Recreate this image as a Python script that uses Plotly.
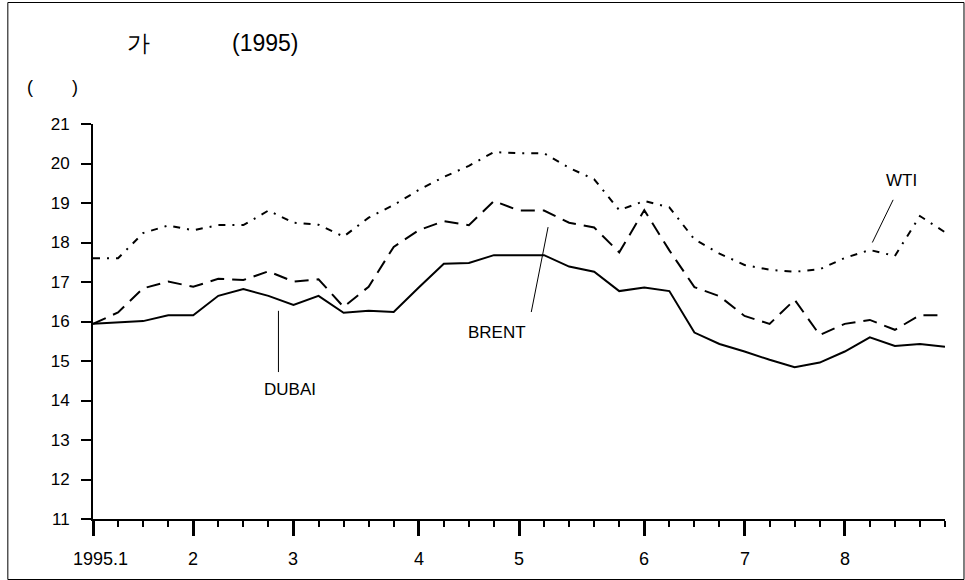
import plotly.graph_objects as go

weeks = list(range(35))
dubai = [15.94, 15.97, 16.01, 16.16, 16.16, 16.65, 16.82, 16.65, 16.42, 16.65, 16.22, 16.27,
         16.24, 16.86, 17.46, 17.48, 17.68, 17.68, 17.68, 17.39, 17.26, 16.77, 16.86, 16.77,
         15.72, 15.43, 15.24, 15.03, 14.84, 14.96, 15.24, 15.60, 15.38, 15.43, 15.36]
brent = [15.94, 16.23, 16.84, 17.01, 16.88, 17.08, 17.05, 17.27, 17.01, 17.07, 16.37, 16.88,
         17.89, 18.31, 18.54, 18.44, 19.05, 18.81, 18.81, 18.50, 18.38, 17.75, 18.82, 17.80,
         16.87, 16.64, 16.14, 15.94, 16.55, 15.66, 15.94, 16.04, 15.79, 16.16, 16.16]
wti = [17.60, 17.60, 18.24, 18.43, 18.31, 18.44, 18.44, 18.81, 18.50, 18.45, 18.15, 18.63,
       18.95, 19.33, 19.66, 19.94, 20.29, 20.26, 20.26, 19.89, 19.60, 18.82, 19.05, 18.89,
       18.08, 17.72, 17.43, 17.31, 17.26, 17.32, 17.61, 17.81, 17.66, 18.67, 18.26]
month_pos = [0, 4, 8, 13, 17, 22, 26, 30]
month_labels = ["1995.1", "2", "3", "4", "5", "6", "7", "8"]
y_ticks = list(range(11, 22))

FONT = "Liberation Sans, Arial, sans-serif"
fig = go.Figure()
fig.add_trace(go.Scatter(x=weeks, y=wti, mode="lines", name="WTI",
                         line=dict(color="black", width=2, dash="7px,7px,2px,7px")))
fig.add_trace(go.Scatter(x=weeks, y=brent, mode="lines", name="BRENT",
                         line=dict(color="black", width=2, dash="14px,8px")))
fig.add_trace(go.Scatter(x=weeks, y=dubai, mode="lines", name="DUBAI",
                         line=dict(color="black", width=2)))

fig.update_layout(
    width=965, height=580,
    margin=dict(l=92.7, r=20, t=124, b=61),
    paper_bgcolor="white", plot_bgcolor="white",
    showlegend=False,
    font=dict(family=FONT, size=17, color="black"),
    xaxis=dict(range=[0, 34], showgrid=False, zeroline=False,
               showline=True, linecolor="black", linewidth=2,
               tickmode="array", tickvals=month_pos, ticktext=[""] * len(month_pos),
               ticks="outside", ticklen=15, tickwidth=3, tickcolor="black",
               minor=dict(tickmode="linear", tick0=0, dtick=1, ticks="outside",
                          ticklen=6, tickwidth=2, tickcolor="black", showgrid=False)),
    yaxis=dict(range=[11, 21], showgrid=False, zeroline=False,
               showline=True, linecolor="black", linewidth=2,
               tickmode="array", tickvals=y_ticks,
               ticks="outside", ticklen=10, tickwidth=2, tickcolor="black",
               ticklabelstandoff=8,
               tickfont=dict(size=17, family=FONT)),
)

# x tick labels
for i, (p, lab) in enumerate(zip(month_pos, month_labels)):
    fig.add_annotation(x=p, y=0, xref="x", yref="paper", text=lab, showarrow=False,
                       yanchor="top", yshift=-28, xshift=7 if i == 0 else 0,
                       font=dict(size=18, family=FONT))

# title and unit
W0, W1, H0, H1 = 92.7, 945.0, 124.0, 519.0
ann = [
    dict(text="가", px=138, py=43, size=23),
    dict(text="(1995)", px=265, py=43, size=23),
    dict(text="(", px=30, py=87, size=18),
    dict(text=")", px=75, py=87, size=18),
]
for a in ann:
    fig.add_annotation(x=(a["px"] - W0) / (W1 - W0), y=(H1 - a["py"]) / (H1 - H0),
                       xref="paper", yref="paper", text=a["text"], showarrow=False,
                       xanchor="center", yanchor="middle",
                       font=dict(size=a["size"], family=FONT))

# series labels with leader lines (data coords)
labels = [
    dict(text="DUBAI", x=7.87, y=14.27, lx=[7.40, 7.40], ly=[16.27, 14.72]),
    dict(text="BRENT", x=16.13, y=15.71, lx=[18.16, 17.49], ly=[18.39, 16.24]),
    dict(text="WTI", x=32.28, y=19.58, lx=[31.93, 31.10], ly=[19.08, 18.0]),
]
for l in labels:
    fig.add_annotation(x=l["x"], y=l["y"], xref="x", yref="y", text=l["text"],
                       showarrow=False, font=dict(size=17, family=FONT))
    fig.add_shape(type="line", xref="x", yref="y", x0=l["lx"][0], y0=l["ly"][0],
                  x1=l["lx"][1], y1=l["ly"][1], line=dict(color="black", width=1))

# outer frame
fig.add_shape(type="rect", xref="paper", yref="paper",
              x0=(7.5 - W0) / (W1 - W0), x1=(964 - W0) / (W1 - W0),
              y0=(H1 - 579.5) / (H1 - H0), y1=(H1 - 2.5) / (H1 - H0),
              line=dict(color="black", width=1))

fig.write_html("out.html", config={"displayModeBar": False},
               post_script="document.body.style.margin='0px';")
